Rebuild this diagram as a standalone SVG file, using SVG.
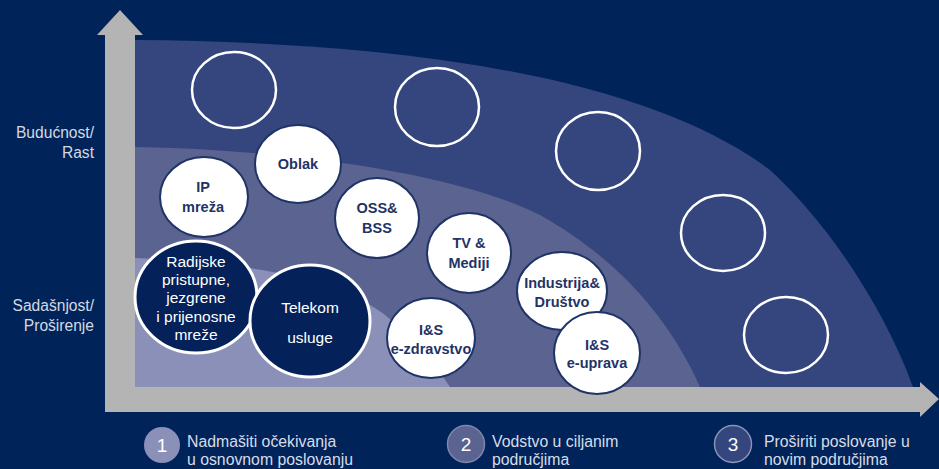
<svg xmlns="http://www.w3.org/2000/svg" width="939" height="469" viewBox="0 0 939 469">
<style>
.bg{fill:#00245a}
.b1{fill:#34467d}
.b2{fill:#5b6390}
.b3{fill:#8b90b8}
.ax{fill:#b4b4b4}
.empty{fill:none;stroke:#ffffff;stroke-width:2.5}
.wc{fill:#ffffff;stroke:#1f3366;stroke-width:2}
.dc{fill:#04215a;stroke:#ffffff;stroke-width:3}
.wt{font-family:"Liberation Sans",Arial,sans-serif;font-size:14.5px;font-weight:bold;fill:#1f3366;text-anchor:middle}
.dt{font-family:"Liberation Sans",Arial,sans-serif;font-size:15.5px;fill:#ffffff;text-anchor:middle}
.yl{font-family:"Liberation Sans",Arial,sans-serif;font-size:15.6px;fill:#d4d8e2;text-anchor:end}
.bl{font-family:"Liberation Sans",Arial,sans-serif;font-size:15.8px;fill:#d8dce8}
.num{font-family:"Liberation Sans",Arial,sans-serif;font-size:19px;fill:#ffffff;text-anchor:middle}
</style>
<rect class="bg" x="0" y="0" width="939" height="469"/>
<g id="bands">
<path class="b1" d="M135,40 C420,42 650,80 770,170 C830,225 885,310 913,387 L135,387 Z"/>
<path class="b2" d="M135,147 C300,150 460,175 540,215 C620,260 670,320 700,387 L135,387 Z"/>
<path class="b3" d="M135,258 C250,262 340,280 385,315 C415,340 435,365 450,387 L135,387 Z"/>
</g>
<g id="axes">
<path class="ax" d="M105,412 L105,35 L97,35 L120,10 L143,35 L135,35 L135,387 L920,387 L920,382 L939,399 L920,417 L920,412 Z"/>
</g>
<g id="connectors"></g>
<g id="empty-circles">
<ellipse class="empty" cx="234" cy="90" rx="42" ry="38"/>
<ellipse class="empty" cx="437" cy="107" rx="42" ry="39"/>
<ellipse class="empty" cx="598" cy="151" rx="42" ry="39"/>
<ellipse class="empty" cx="723" cy="233" rx="42" ry="38"/>
<ellipse class="empty" cx="786" cy="335" rx="42" ry="38"/>
</g>
<g id="oblak"><ellipse class="wc" cx="298" cy="164" rx="43" ry="39"/><text class="wt" x="298" y="169">Oblak</text></g>
<g id="ip-mreza"><ellipse class="wc" cx="204" cy="197" rx="44" ry="40"/><text class="wt" x="203" y="192">IP</text><text class="wt" x="203" y="212">mreža</text></g>
<g id="oss-bss"><ellipse class="wc" cx="377" cy="218" rx="42" ry="40"/><text class="wt" x="377" y="213">OSS&amp;</text><text class="wt" x="377" y="233">BSS</text></g>
<g id="tv-mediji"><ellipse class="wc" cx="469" cy="253" rx="42" ry="40"/><text class="wt" x="469" y="248">TV &amp;</text><text class="wt" x="469" y="268">Mediji</text></g>
<g id="industrija"><ellipse class="wc" cx="562" cy="291" rx="45" ry="39"/><text class="wt" x="562" y="288">Industrija&amp;</text><text class="wt" x="562" y="307">Društvo</text></g>
<g id="is-euprava"><ellipse class="wc" cx="597" cy="353" rx="43" ry="41"/><text class="wt" x="597" y="350">I&amp;S</text><text class="wt" x="597" y="368">e-uprava</text></g>
<g id="is-ezdravstvo"><ellipse class="wc" cx="431" cy="338" rx="44" ry="40"/><text class="wt" x="431" y="335">I&amp;S</text><text class="wt" x="431" y="354">e-zdravstvo</text></g>
<g id="radijske"><ellipse class="dc" cx="196" cy="297" rx="61" ry="56"/>
<text class="dt" x="196" y="267">Radijske</text>
<text class="dt" x="196" y="285">pristupne,</text>
<text class="dt" x="196" y="303">jezgrene</text>
<text class="dt" x="196" y="322">i prijenosne</text>
<text class="dt" x="196" y="340">mreže</text></g>
<g id="telekom"><ellipse class="dc" cx="310" cy="321" rx="60" ry="56"/>
<text class="dt" x="310" y="313">Telekom</text>
<text class="dt" x="310" y="343">usluge</text></g>
<g id="y-labels">
<text class="yl" x="94" y="138">Budućnost/</text>
<text class="yl" x="94" y="158">Rast</text>
<text class="yl" x="94" y="311">Sadašnjost/</text>
<text class="yl" x="94" y="331">Proširenje</text>
</g>
<g id="step1"><circle cx="162" cy="445" r="18" fill="#8b90b8"/><text class="num" x="162" y="452">1</text>
<text class="bl" x="187" y="447">Nadmašiti očekivanja</text><text class="bl" x="187" y="465">u osnovnom poslovanju</text></g>
<g id="step2"><circle cx="466" cy="444" r="18.5" fill="#5b6390" stroke="#7f86ad" stroke-width="1.5"/><text class="num" x="466" y="451">2</text>
<text class="bl" x="492" y="447">Vodstvo  u ciljanim</text><text class="bl" x="492" y="465">područjima</text></g>
<g id="step3"><circle cx="733" cy="444" r="18.5" fill="#34467d" stroke="#8b93b8" stroke-width="1.5"/><text class="num" x="733" y="451">3</text>
<text class="bl" x="764" y="447">Proširiti poslovanje u</text><text class="bl" x="764" y="465">novim područjima</text></g>
</svg>
